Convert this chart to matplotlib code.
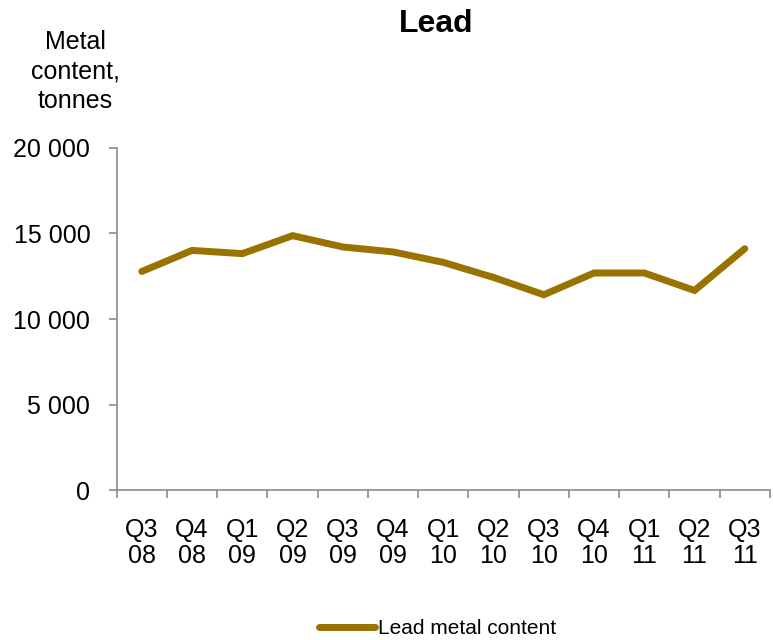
import numpy as np
import matplotlib.pyplot as plt

plt.rcParams['font.family'] = ['Liberation Sans', 'DejaVu Sans']

# Quarterly lead metal content, tonnes
quarters = ['Q3\n08', 'Q4\n08', 'Q1\n09', 'Q2\n09', 'Q3\n09', 'Q4\n09', 'Q1\n10',
            'Q2\n10', 'Q3\n10', 'Q4\n10', 'Q1\n11', 'Q2\n11', 'Q3\n11']
lead = [12780, 14010, 13820, 14870, 14210, 13920, 13310,
        12430, 11420, 12690, 12690, 11670, 14110]
yticks = [0, 5000, 10000, 15000, 20000]
ytick_labels = ['0', '5 000', '10 000', '15 000', '20 000']

color = '#997300'
axis_color = '#8c8c8c'

fig = plt.figure(figsize=(7.73, 6.40), dpi=100)
ax = fig.add_axes([0.151, 0.234, 0.845, 0.535])

x = np.arange(len(quarters))
ax.plot(x, lead, color=color, linewidth=5, solid_capstyle='round',
        solid_joinstyle='miter', label='Lead metal content')

ax.set_xlim(-0.5, len(quarters) - 0.5)
ax.set_ylim(0, 20000)
ax.set_yticks(yticks)
ax.set_yticklabels(ytick_labels, fontsize=18)

# labels sit at category centres, tick marks at the boundaries
ax.set_xticks(x)
ax.set_xticklabels(quarters, fontsize=18, linespacing=1.1)
ax.set_xticks(np.arange(len(quarters) + 1) - 0.5, minor=True)
ax.tick_params(axis='x', which='major', length=0, pad=20)
ax.tick_params(axis='x', which='minor', length=6, color=axis_color, width=1.2)
ax.tick_params(axis='y', length=6, color=axis_color, width=1.2, pad=13)

for s in ['top', 'right']:
    ax.spines[s].set_visible(False)
for s in ['left', 'bottom']:
    ax.spines[s].set_color(axis_color)
    ax.spines[s].set_linewidth(1.2)

fig.text(0.564, 0.962, 'Lead', fontsize=23, fontweight='bold', ha='center', va='center')
fig.text(0.097, 0.888, 'Metal\ncontent,\ntonnes', fontsize=18, ha='center', va='center',
         linespacing=1.3)

fig.legend(loc='center', bbox_to_anchor=(0.566, 0.018), frameon=False, fontsize=15,
           handlelength=2.7, handletextpad=0.15)

fig.savefig('out.png', dpi=100)
